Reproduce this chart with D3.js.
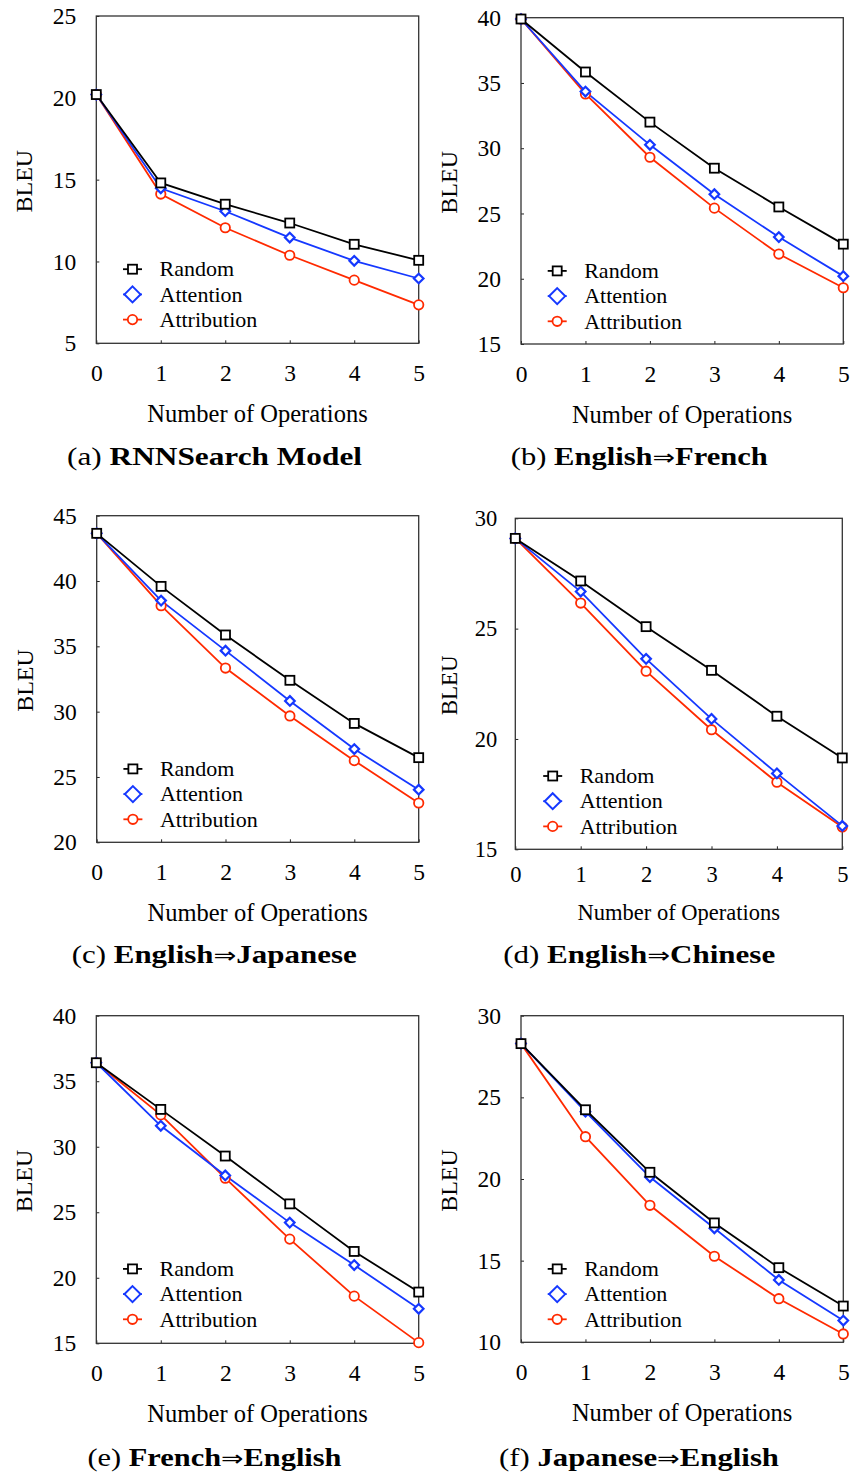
<!DOCTYPE html>
<html><head><meta charset="utf-8">
<script src="https://cdn.jsdelivr.net/npm/d3@7"></script>
<style>body{margin:0;background:#fff}svg{display:block}</style>
</head><body>
<script>
const ops = [0, 1, 2, 3, 4, 5];
const seriesNames = ["Random", "Attention", "Attribution"];

const aRandom = [20.2, 14.8, 13.5, 12.35, 11.05, 10.07];
const aAttention = [20.2, 14.47, 13.07, 11.46, 10.04, 8.96];
const aAttribution = [20.2, 14.12, 12.06, 10.38, 8.86, 7.35];
const aTicks = [5, 10, 15, 20, 25];

const bRandom = [39.9, 35.84, 32.0, 28.47, 25.5, 22.65];
const bAttention = [39.9, 34.34, 30.26, 26.48, 23.19, 20.2];
const bAttribution = [39.9, 34.16, 29.31, 25.41, 21.89, 19.31];
const bTicks = [15, 20, 25, 30, 35, 40];

const cRandom = [43.65, 39.59, 35.87, 32.4, 29.1, 26.48];
const cAttention = [43.65, 38.5, 34.67, 30.82, 27.14, 24.03];
const cAttribution = [43.65, 38.11, 33.34, 29.67, 26.25, 23.01];
const cTicks = [20, 25, 30, 35, 40, 45];

const dRandom = [29.09, 27.16, 25.09, 23.11, 21.03, 19.14];
const dAttention = [29.09, 26.68, 23.63, 20.91, 18.44, 16.06];
const dAttribution = [29.09, 26.16, 23.07, 20.42, 18.04, 16.01];
const dTicks = [15, 20, 25, 30];

const eRandom = [36.41, 32.85, 29.29, 25.64, 22.01, 18.91];
const eAttention = [36.41, 31.6, 27.81, 24.21, 20.97, 17.63];
const eAttribution = [36.41, 32.43, 27.6, 22.95, 18.6, 15.05];
const eTicks = [15, 20, 25, 30, 35, 40];

const fRandom = [28.29, 24.24, 20.41, 17.31, 14.57, 12.22];
const fAttention = [28.29, 24.12, 20.12, 16.98, 13.82, 11.33];
const fAttribution = [28.29, 22.59, 18.39, 15.27, 12.67, 10.51];
const fTicks = [10, 15, 20, 25, 30];

const captionTags = ["(a)", "(b)", "(c)", "(d)", "(e)", "(f)"];
const captionTitles = ["RNNSearch Model", "English\u21D2French", "English\u21D2Japanese",
  "English\u21D2Chinese", "French\u21D2English", "Japanese\u21D2English"];

const panels = [
  {series: [aRandom, aAttention, aAttribution], ticks: aTicks, box: [96.3, 418.7, 16, 343.3], cap: [214.5, 465, 295], small: false},
  {series: [bRandom, bAttention, bAttribution], ticks: bTicks, box: [521, 843.3, 17.7, 344], cap: [639.3, 465, 257], small: false},
  {series: [cRandom, cAttention, cAttribution], ticks: cTicks, box: [96.7, 418.7, 515.7, 842.3], cap: [214.2, 963, 285], small: false},
  {series: [dRandom, dAttention, dAttribution], ticks: dTicks, box: [515.3, 842.3, 518.3, 849.3], cap: [639.2, 963, 272], small: true},
  {series: [eRandom, eAttention, eAttribution], ticks: eTicks, box: [96.3, 418.7, 1015.7, 1343.3], cap: [214.5, 1465.5, 254], small: false},
  {series: [fRandom, fAttention, fAttribution], ticks: fTicks, box: [521, 843.3, 1015.7, 1342.3], cap: [639, 1465.5, 280], small: false}
];

const colors = ["#000000", "#1538ff", "#ff2a00"];
const serif = "'Liberation Serif', 'Times New Roman', serif";

const svg = d3.select("body").append("svg").attr("width", 850).attr("height", 1478);

function marker(g, type, x, y, big) {
  const c = colors[type];
  if (type === 0) {
    const s = 9;
    g.append("rect").attr("x", x - s / 2).attr("y", y - s / 2).attr("width", s).attr("height", s)
      .attr("fill", "#fff").attr("stroke", c).attr("stroke-width", 1.8);
  } else if (type === 1) {
    const h = big ? 8 : 4.8;
    g.append("path").attr("d", `M${x},${y - h}L${x + h},${y}L${x},${y + h}L${x - h},${y}Z`)
      .attr("fill", "#fff").attr("stroke", c).attr("stroke-width", big ? 2 : 2.2);
  } else {
    g.append("circle").attr("cx", x).attr("cy", y).attr("r", 4.7)
      .attr("fill", "#fff").attr("stroke", c).attr("stroke-width", 1.8);
  }
}

panels.forEach((p, i) => {
  const [x0, x1, y0, y1] = p.box;
  const ext = d3.extent(p.ticks);
  const x = d3.scaleLinear().domain([0, 5]).range([x0, x1]);
  const y = d3.scaleLinear().domain(ext).range([y1, y0]);
  const g = svg.append("g");
  const tickFs = p.small ? 22.5 : 23.5;
  const labFs = p.small ? 22.5 : 24.5;

  const xAxis = d3.axisBottom(x).tickValues(ops).tickSize(-3).tickPadding(p.small ? 17 : 21).tickFormat(d3.format("d"));
  const gx = g.append("g").attr("transform", `translate(0,${y1})`).call(xAxis);
  const yAxis = d3.axisLeft(y).tickValues(p.ticks).tickSize(-3).tickPadding(p.small ? 18 : 20).tickFormat(d3.format("d"));
  const gy = g.append("g").attr("transform", `translate(${x0},0)`).call(yAxis);
  [gx, gy].forEach(a => {
    a.attr("font-family", serif);
    a.select(".domain").remove();
    a.selectAll("line").attr("stroke", "#222").attr("stroke-width", 1);
    a.selectAll("text").attr("font-family", serif).attr("font-size", tickFs).attr("fill", "#000");
  });

  g.append("rect").attr("x", x0).attr("y", y0).attr("width", x1 - x0).attr("height", y1 - y0)
    .attr("fill", "none").attr("stroke", "#333").attr("stroke-width", 1.3);

  const line = d3.line().x((d, j) => x(ops[j])).y(d => y(d));
  [2, 1, 0].forEach(k => {
    g.append("path").datum(p.series[k]).attr("d", line).attr("fill", "none")
      .attr("stroke", colors[k]).attr("stroke-width", 1.8);
  });
  [2, 1, 0].forEach(k => {
    p.series[k].forEach((v, j) => marker(g, k, x(ops[j]), y(v), false));
  });

  const lx = x0 + (p.small ? 37.4 : 36.2);
  const ly = y0 + (p.small ? 257.7 : 253.2);
  seriesNames.forEach((name, k) => {
    const yy = ly + k * 25.2;
    g.append("line").attr("x1", lx - 9.5).attr("x2", lx + 9.5).attr("y1", yy).attr("y2", yy)
      .attr("stroke", colors[k]).attr("stroke-width", 1.8);
    marker(g, k, lx, yy, true);
    g.append("text").attr("x", lx + 27).attr("y", yy).attr("dy", "0.33em")
      .attr("font-family", serif).attr("font-size", 22).text(name);
  });

  g.append("text").attr("x", (x0 + x1) / 2).attr("y", y1 + (p.small ? 71 : 78.5))
    .attr("text-anchor", "middle").attr("font-family", serif).attr("font-size", labFs).text("Number of Operations");
  const bx = x0 - (p.small ? 66.6 : 72);
  const by = (y0 + y1) / 2 + 1.5;
  g.append("text").attr("transform", `translate(${bx + 8},${by}) rotate(-90)`)
    .attr("text-anchor", "middle").attr("font-family", serif).attr("font-size", p.small ? 23 : 24).text("BLEU");

  // caption
  const t = svg.append("text").attr("x", p.cap[0] - p.cap[2] / 2).attr("y", p.cap[1])
    .attr("textLength", p.cap[2]).attr("lengthAdjust", "spacingAndGlyphs")
    .attr("font-family", serif).attr("font-size", 25);
  t.append("tspan").text(captionTags[i] + " ");
  const parts = captionTitles[i].split("\u21D2");
  t.append("tspan").attr("font-weight", "bold").text(parts[0]);
  if (parts.length > 1) {
    t.append("tspan").attr("font-family", "'DejaVu Sans', sans-serif").attr("font-size", 22).text("\u21D2");
    t.append("tspan").attr("font-weight", "bold").text(parts[1]);
  }
});
</script>
</body></html>
